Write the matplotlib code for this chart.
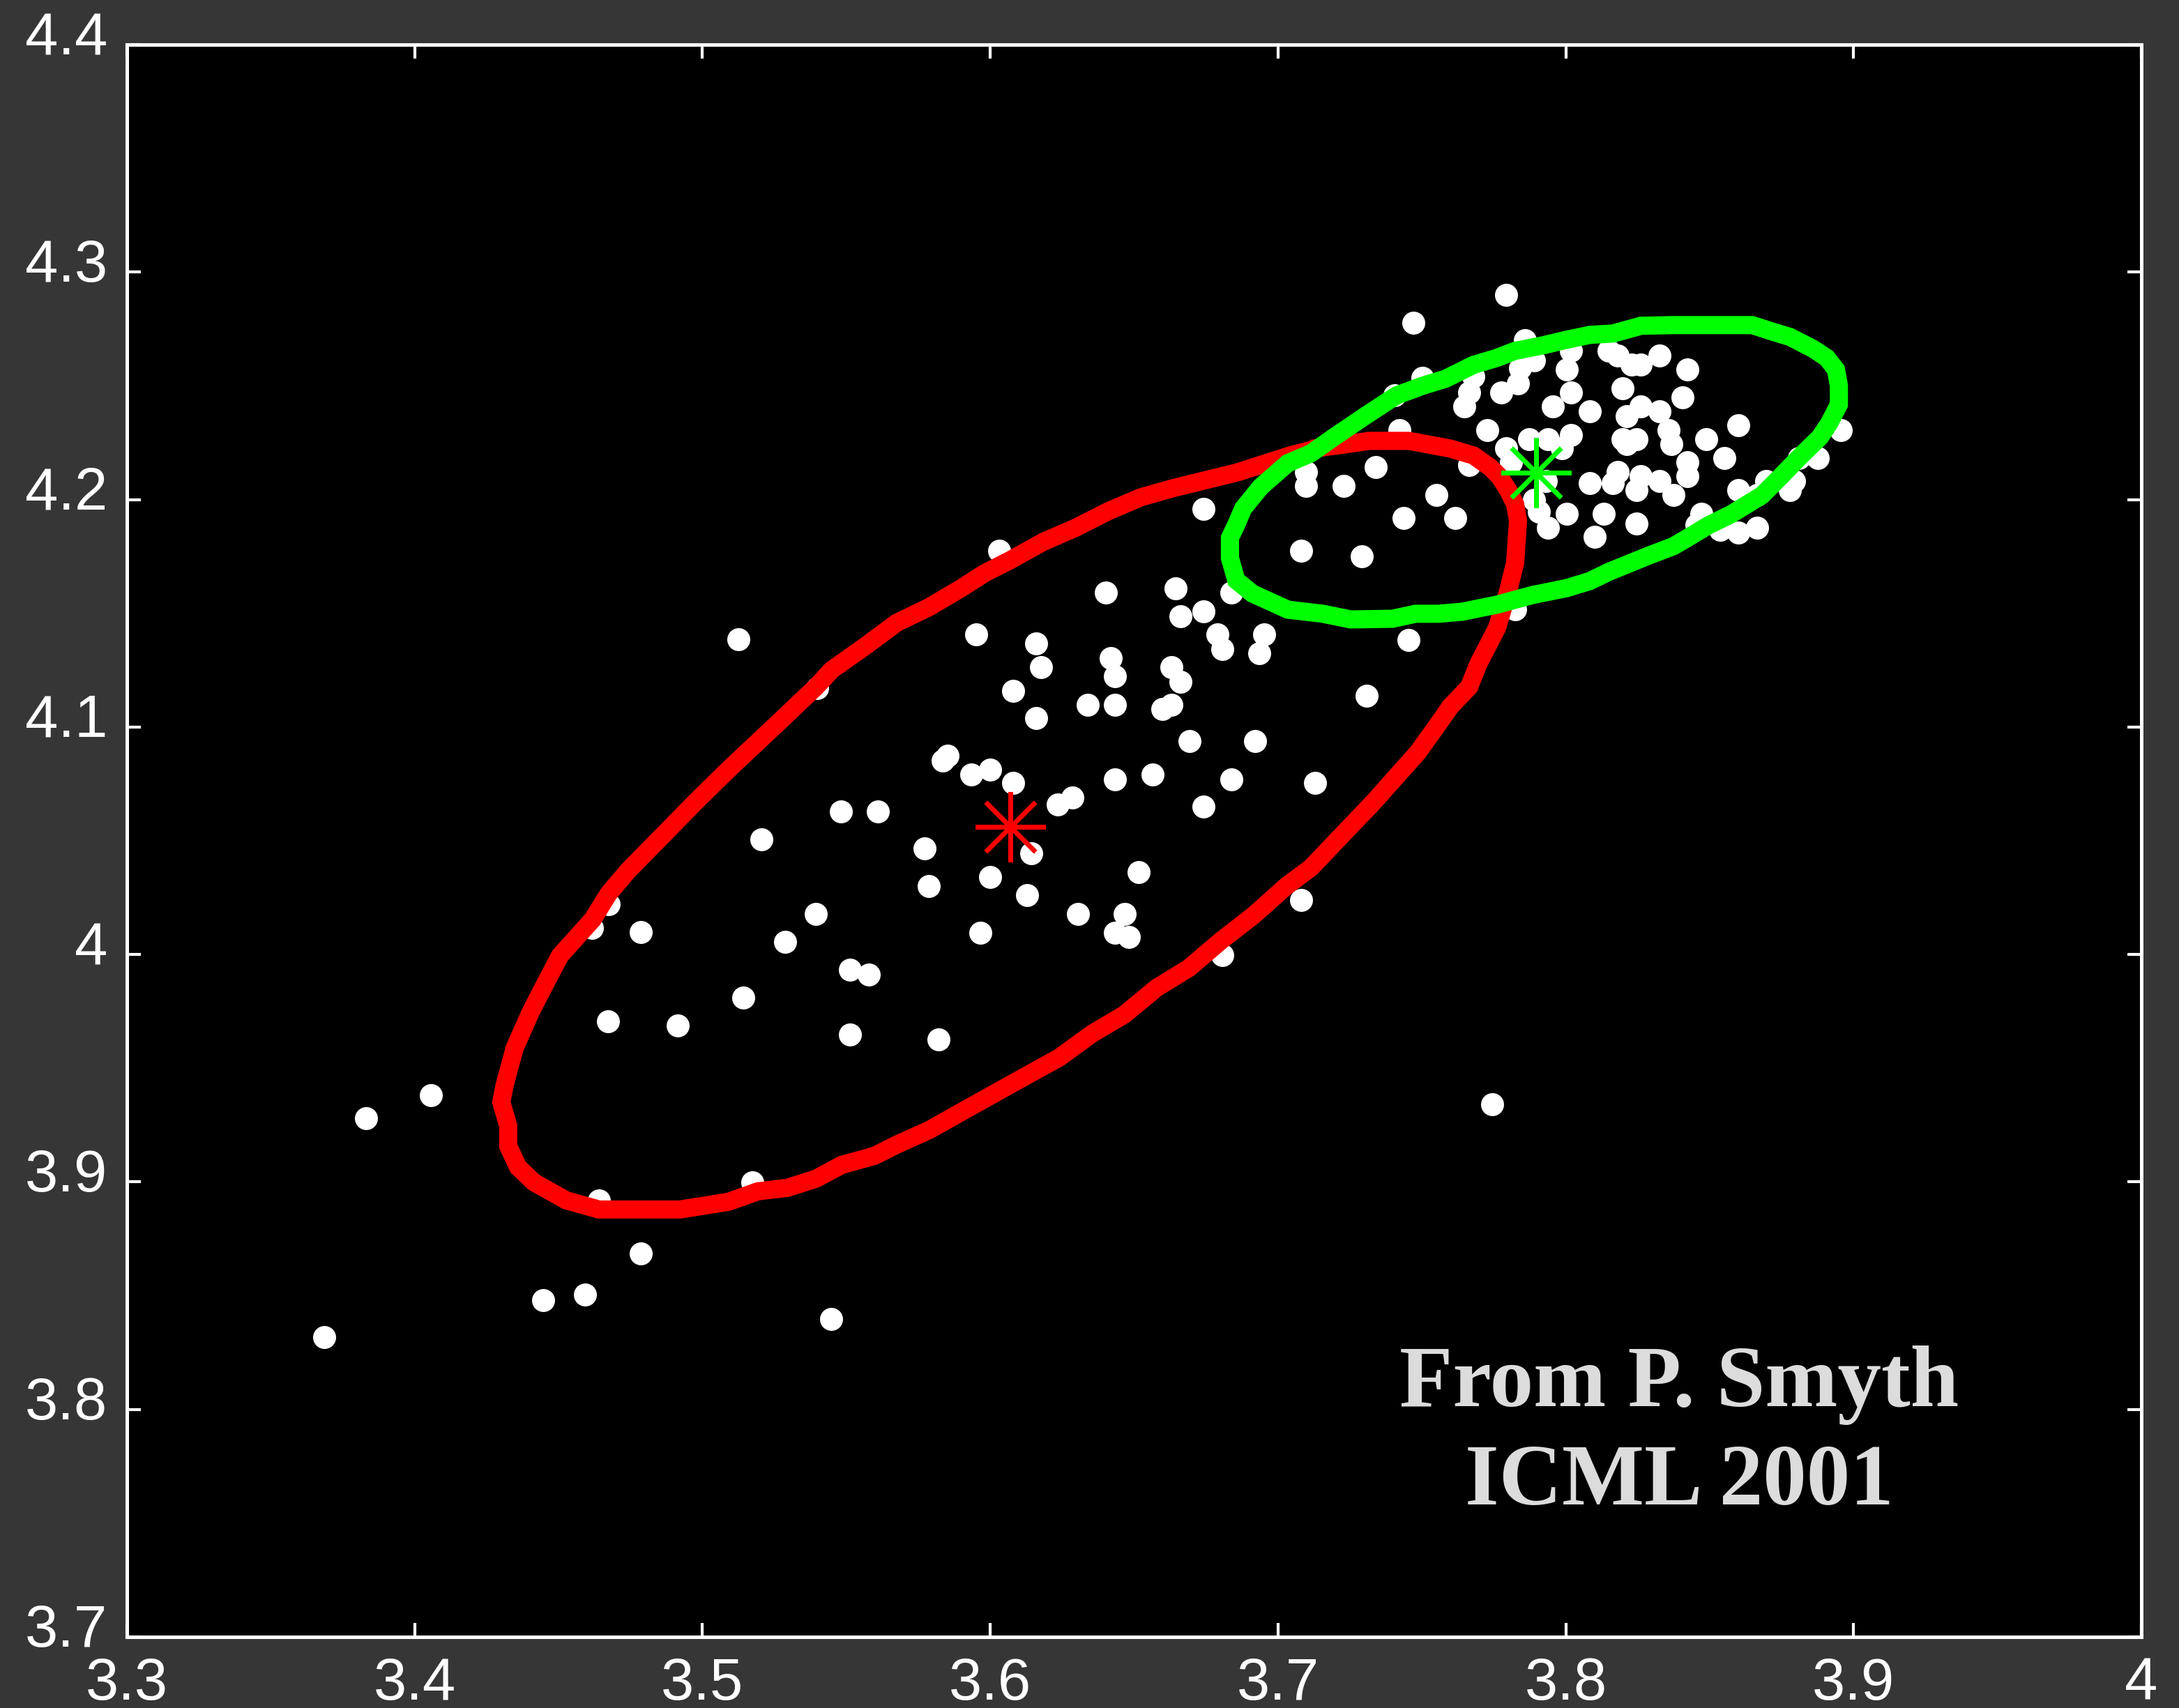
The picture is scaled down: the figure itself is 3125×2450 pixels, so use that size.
import matplotlib
matplotlib.use("Agg")
import matplotlib.pyplot as plt
from matplotlib.transforms import ScaledTranslation
from matplotlib.ticker import FormatStrFormatter, FuncFormatter

# ---- data -------------------------------------------------------------
# observations (x, y)
pts_x = [
    3.5125, 3.5399, 3.5205, 3.5394, 3.5287, 3.5142, 3.4914, 3.4672, 3.4786, 3.4674,
    3.4616, 3.4056, 3.3831, 3.4640, 3.5173, 3.4786, 3.4447, 3.4592, 3.3686, 3.5447,
    3.6031, 3.6741, 3.7097, 3.7097, 3.7081, 3.6402, 3.6644, 3.6838, 3.6741, 3.6661,
    3.6790, 3.6807, 3.6952, 3.6935, 3.5951, 3.6160, 3.6177, 3.6419, 3.6434, 3.6630,
    3.6661, 3.6080, 3.6339, 3.6434, 3.6630, 3.6598, 3.6160, 3.6693, 3.6920, 3.5852,
    3.5835, 3.5934, 3.5999, 3.6080, 3.6434, 3.6564, 3.6838, 3.7129, 3.5481, 3.5610,
    3.6235, 3.6286, 3.6741,
    3.5772, 3.5787, 3.6000, 3.6143, 3.6128, 3.5966, 3.6305, 3.6467, 3.6434, 3.6482,
    3.6516, 3.7080, 3.6807, 3.5513, 3.5578, 3.5513, 3.5820,
    3.7454, 3.7308, 3.7744,
    3.7793, 3.7471, 3.7858, 3.7502, 3.7405, 3.7679, 3.8018, 3.7890, 3.7841, 3.8004,
    3.8149, 3.8181, 3.8229, 3.8261, 3.8326, 3.7664, 3.7647, 3.7776, 3.7834, 3.8018,
    3.8197, 3.7955, 3.8084, 3.8261, 3.8326, 3.8212, 3.8406, 3.7728, 3.7422, 3.8018,
    3.7873, 3.7938, 3.7793, 3.7987, 3.7810, 3.8197, 3.8246, 3.8212, 3.8358, 3.8367,
    3.7664, 3.7931, 3.7890, 3.7906, 3.7938, 3.8004, 3.8084, 3.8181, 3.8164, 3.8261,
    3.8246, 3.8326, 3.8374, 3.8132, 3.8101, 3.8246, 3.7340, 3.7228, 3.7550, 3.7437,
    3.7616, 3.7291, 3.7824,
    3.8423, 3.8488, 3.8600, 3.8551, 3.8423, 3.8423, 3.8600, 3.8665, 3.8697, 3.8471,
    3.8455, 3.8537, 3.8600, 3.8665, 3.8779, 3.8794, 3.8811, 3.8876, 3.8956,
]
pts_y = [
    4.1387, 4.1170, 4.0507, 4.0179, 4.0056, 3.9811, 3.9688, 3.9707, 4.0099, 4.0222,
    4.0118, 3.9382, 3.9281, 3.8919, 3.8998, 3.8686, 3.8480, 3.8505, 3.8318, 3.8397,
    4.1774, 4.1958, 4.2120, 4.2059, 4.1774, 4.1590, 4.1611, 4.1590, 4.1507, 4.1488,
    4.1406, 4.1344, 4.1406, 4.1323, 4.1406, 4.1366, 4.1262, 4.1304, 4.1222, 4.1262,
    4.1200, 4.1160, 4.1099, 4.1099, 4.1099, 4.1078, 4.1038, 4.0937, 4.0937, 4.0875,
    4.0854, 4.0792, 4.0814, 4.0753, 4.0771, 4.0792, 4.0771, 4.0753, 4.0630, 4.0630,
    4.0660, 4.0691, 4.0651,
    4.0467, 4.0302, 4.0342, 4.0446, 4.0262, 4.0096, 4.0179, 4.0179, 4.0096, 4.0078,
    4.0363, 4.0240, 3.9998, 3.9934, 3.9912, 3.9649, 3.9627,
    4.1384, 4.1139, 3.9342,
    4.2899, 4.2776, 4.2700, 4.2534, 4.2458, 4.2540, 4.2654, 4.2611, 4.2577, 4.2571,
    4.2654, 4.2632, 4.2592, 4.2592, 4.2632, 4.2470, 4.2408, 4.2470, 4.2510, 4.2470,
    4.2488, 4.2408, 4.2387, 4.2408, 4.2387, 4.2366, 4.2448, 4.2304, 4.2304, 4.2284,
    4.2264, 4.2264, 4.2224, 4.2224, 4.2163, 4.2264, 4.2264, 4.2243, 4.2304, 4.2243,
    4.2151, 4.2080, 4.1998, 4.1948, 4.1875, 4.1936, 4.2071, 4.2120, 4.2071, 4.2102,
    4.2041, 4.2080, 4.2019, 4.1936, 4.1835, 4.1896, 4.2142, 4.2059, 4.2019, 4.1918,
    4.1918, 4.1752, 4.1519,
    4.2571, 4.2264, 4.2326, 4.2182, 4.2163, 4.2102, 4.2041, 4.2019, 4.2080, 4.1936,
    4.1887, 4.1866, 4.1856, 4.1875, 4.2041, 4.2080, 4.2182, 4.2182, 4.2304,
]

# component 1 contour (red)
red_x = [
    3.7146, 3.7236, 3.7316, 3.7454, 3.7519, 3.7599, 3.7679, 3.7737, 3.7769, 3.7800,
    3.7824, 3.7834, 3.7824, 3.7800, 3.7761, 3.7696, 3.7664, 3.7599, 3.7543, 3.7485,
    3.7422, 3.7332, 3.7211, 3.7114, 3.7030, 3.6916, 3.6804, 3.6690, 3.6579, 3.6465,
    3.6354, 3.6240, 3.6070, 3.5900, 3.5789, 3.5675, 3.5598, 3.5484, 3.5394, 3.5295,
    3.5193, 3.5091, 3.4922, 3.4640, 3.4527, 3.4415, 3.4359, 3.4325, 3.4325, 3.4301,
    3.4313, 3.4347, 3.4403, 3.4449, 3.4505, 3.4619, 3.4674, 3.4742, 3.4866, 3.4980,
    3.5091, 3.5261, 3.5394, 3.5450, 3.5564, 3.5675, 3.5789, 3.5900, 3.5980, 3.6070,
    3.6184, 3.6295, 3.6409, 3.6523, 3.6635, 3.6860, 3.7042, 3.7146,
]
red_y = [
    4.2228, 4.2243, 4.2258, 4.2258, 4.2243, 4.2224, 4.2194, 4.2142, 4.2102, 4.2041,
    4.1979, 4.1906, 4.1722, 4.1599, 4.1436, 4.1277, 4.1176, 4.1090, 4.0989, 4.0887,
    4.0798, 4.0670, 4.0510, 4.0381, 4.0302, 4.0173, 4.0063, 3.9940, 3.9854, 3.9735,
    3.9652, 3.9547, 3.9428, 3.9308, 3.9229, 3.9164, 3.9115, 3.9075, 3.9014, 3.8974,
    3.8959, 3.8913, 3.8879, 3.8879, 3.8919, 3.8998, 3.9066, 3.9158, 3.9247, 3.9351,
    3.9428, 3.9587, 3.9747, 3.9860, 3.9995, 4.0155, 4.0268, 4.0369, 4.0529, 4.0676,
    4.0814, 4.1016, 4.1176, 4.1252, 4.1354, 4.1458, 4.1528, 4.1611, 4.1676, 4.1734,
    4.1814, 4.1875, 4.1948, 4.2010, 4.2050, 4.2120, 4.2194, 4.2228,
]

# component 2 contour (green)
green_x = [
    3.6833, 3.6833, 3.6855, 3.6879, 3.6940, 3.7034, 3.7114, 3.7194, 3.7301, 3.7412,
    3.7502, 3.7582, 3.7679, 3.7761, 3.7824, 3.7921, 3.8004, 3.8084, 3.8164, 3.8261,
    3.8374, 3.8648, 3.8714, 3.8779, 3.8859, 3.8907, 3.8939, 3.8949, 3.8949, 3.8915,
    3.8883, 3.8818, 3.8738, 3.8682, 3.8575, 3.8496, 3.8416, 3.8374, 3.8285, 3.8149,
    3.8084, 3.8004, 3.7883, 3.7761, 3.7640, 3.7558, 3.7478, 3.7398, 3.7252, 3.7156,
    3.7034, 3.6911, 3.6855, 3.6833, 3.6833,
]
green_y = [
    4.1774, 4.1832, 4.1890, 4.1961, 4.2056, 4.2160, 4.2203, 4.2274, 4.2366, 4.2458,
    4.2500, 4.2531, 4.2592, 4.2623, 4.2654, 4.2678, 4.2703, 4.2724, 4.2730, 4.2764,
    4.2767, 4.2767, 4.2740, 4.2715, 4.2663, 4.2623, 4.2571, 4.2500, 4.2418, 4.2335,
    4.2274, 4.2194, 4.2090, 4.2019, 4.1936, 4.1887, 4.1826, 4.1795, 4.1752, 4.1682,
    4.1642, 4.1611, 4.1580, 4.1538, 4.1507, 4.1498, 4.1498, 4.1476, 4.1473, 4.1498,
    4.1516, 4.1587, 4.1645, 4.1743, 4.1774,
]

# component means
mean_red = (3.607, 4.056)
mean_green = (3.7897, 4.2117)

x_ticks = [3.3, 3.4, 3.5, 3.6, 3.7, 3.8, 3.9, 4.0]
y_ticks = [3.7, 3.8, 3.9, 4.0, 4.1, 4.2, 4.3, 4.4]

credit_lines = ["From P. Smyth", "ICML 2001"]

# ---- figure -----------------------------------------------------------
fig = plt.figure(figsize=(12.5, 9.8), dpi=250, facecolor="#363636")
ax = fig.add_axes([0.05824, 0.04163, 0.92448, 0.93224])
ax.set_facecolor("black")

ax.plot(pts_x, pts_y, "o", color="white", markersize=9.5,
        markeredgewidth=0, zorder=2)
ax.plot(red_x, red_y, "-", color="#ff0000", linewidth=7.5,
        solid_joinstyle="miter", zorder=3)
ax.plot(green_x, green_y, "-", color="#00ff00", linewidth=7.5,
        solid_joinstyle="miter", zorder=3)
ax.plot(*mean_red, marker=(8, 2, 0), color="#ff0000", markersize=29,
        markeredgewidth=1.9, linestyle="none", zorder=4)
ax.plot(*mean_green, marker=(8, 2, 0), color="#00ff00", markersize=29,
        markeredgewidth=1.9, linestyle="none", zorder=4)

ax.set_xlim(3.3, 4.0)
ax.set_ylim(3.7, 4.4)
ax.set_xticks(x_ticks)
ax.set_yticks(y_ticks)
fmt = FuncFormatter(lambda v, _: f"{v:g}")
ax.xaxis.set_major_formatter(fmt)
ax.yaxis.set_major_formatter(fmt)

for sp in ax.spines.values():
    sp.set_color("white")
    sp.set_linewidth(1.45)

ax.tick_params(axis="both", which="major", direction="in", length=5.8,
               width=1.2, color="white", labelcolor="white",
               labelsize=24.5, pad=8,
               top=True, right=True)
for lab in ax.get_xticklabels() + ax.get_yticklabels():
    lab.set_fontfamily("Liberation Sans")

# y labels sit slightly above their ticks
shift = ScaledTranslation(0, 17 / 250, fig.dpi_scale_trans)
for lab in ax.get_yticklabels():
    lab.set_transform(lab.get_transform() + shift)

ax.text(3.8394, 3.8014, credit_lines[0], ha="center", va="baseline",
        fontsize=36, fontweight="bold", family="Liberation Serif",
        color="#dcdcdc", zorder=5)
ax.text(3.8394, 3.7582, credit_lines[1], ha="center", va="baseline",
        fontsize=36, fontweight="bold", family="Liberation Serif",
        color="#dcdcdc", zorder=5)

fig.savefig("out.png", dpi=250, facecolor=fig.get_facecolor())
